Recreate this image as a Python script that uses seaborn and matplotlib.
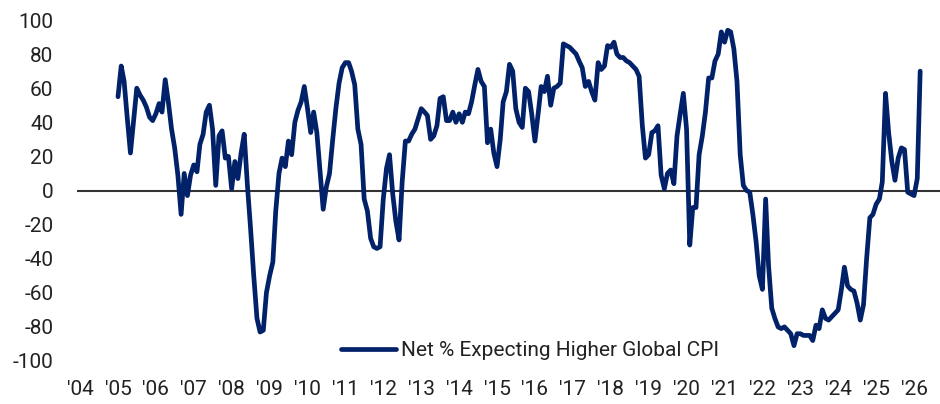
import pandas as pd
import numpy as np
import matplotlib
matplotlib.use("Agg")
import matplotlib.pyplot as plt
import matplotlib.dates as mdates
import seaborn as sns

# monthly readings, Jan 2005 .. Mar 2026
y2005 = [55, 73, 64, 42, 22, 41, 60, 56, 53, 49, 43, 41]
y2006 = [45, 51, 46, 65, 52, 36, 25, 9, -14, 10, -3, 9]
y2007 = [15, 11, 27, 33, 46, 50, 36, 3, 32, 35, 19, 20]
y2008 = [1, 17, 7, 22, 33, 3, -22, -50, -75, -83, -82, -60]
y2009 = [-50, -42, -12, 10, 19, 14, 29, 21, 40, 47, 52, 61]
y2010 = [48, 34, 46, 34, 12, -11, 2, 10, 30, 48, 63, 72]
y2011 = [75, 75, 70, 62, 36, 27, -5, -12, -28, -33, -34, -33]
y2012 = [-5, 13, 21, -2, -18, -29, 5, 29, 29, 33, 36, 42]
y2013 = [48, 46, 44, 30, 32, 38, 54, 55, 41, 41, 46, 40]
y2014 = [45, 40, 46, 45, 52, 62, 71, 64, 61, 28, 36, 22]
y2015 = [14, 30, 52, 58, 74, 70, 48, 40, 37, 60, 58, 45]
y2016 = [29, 45, 61, 58, 67, 50, 60, 61, 63, 86, 85, 84]
y2017 = [82, 80, 76, 72, 61, 64, 58, 53, 75, 71, 73, 85]
y2018 = [84, 87, 80, 78, 78, 76, 75, 73, 71, 67, 38, 19]
y2019 = [21, 34, 35, 38, 9, 1, 10, 12, 4, 32, 45, 57]
y2020 = [36, -32, -10, -10, 21, 32, 46, 66, 66, 76, 80, 93]
y2021 = [87, 94, 93, 83, 64, 21, 3, 0, -1, -14, -30, -50]
y2022 = [-58, -5, -44, -69, -75, -80, -81, -80, -82, -84, -91, -84]
y2023 = [-84, -85, -85, -85, -88, -79, -81, -70, -75, -76, -74, -72]
y2024 = [-70, -58, -45, -56, -58, -59, -66, -76, -67, -40, -16, -14]
y2025 = [-8, -5, 5, 57, 34, 17, 6, 19, 25, 24, -1, -2]
y2026 = [-3, 7, 70]

series_name = "Net % Expecting Higher Global CPI"
year_labels = ["'%02d" % (y % 100) for y in range(2004, 2027)]
y_ticks = list(range(-100, 101, 20))

values = (y2005 + y2006 + y2007 + y2008 + y2009 + y2010 + y2011 + y2012 + y2013
          + y2014 + y2015 + y2016 + y2017 + y2018 + y2019 + y2020 + y2021
          + y2022 + y2023 + y2024 + y2025 + y2026)
dates = pd.date_range("2005-01-01", periods=len(values), freq="MS")
df = pd.DataFrame({"date": dates, "value": values})

navy = "#012169"
text_col = "#222222"

sns.set_style("white")
plt.rcParams["font.family"] = ["Liberation Sans Narrow", "Roboto", "DejaVu Sans"]

fig = plt.figure(figsize=(9.4, 4.04), dpi=100)
ax = fig.add_axes([77 / 940, 1 - 361 / 404, 1 - 77 / 940, (361 - 20) / 404])

ax.axhline(0, color="#333333", linewidth=1.5, zorder=1)
sns.lineplot(data=df, x="date", y="value", ax=ax, color=navy, linewidth=3.4,
             label=series_name, zorder=2)

ax.set_ylim(-100, 100)
ax.set_xlim(pd.Timestamp("2003-12-03"), pd.Timestamp("2026-09-08"))
ax.set_yticks(y_ticks)
ax.set_yticklabels([str(t) for t in y_ticks])
ax.set_xticks([pd.Timestamp(f"{y}-01-01") for y in range(2004, 2027)])
ax.set_xticklabels(year_labels)
ax.tick_params(axis="both", length=0, labelsize=15, colors=text_col)
ax.tick_params(axis="y", pad=17)
ax.tick_params(axis="x", pad=14)
ax.set_xlabel("")
ax.set_ylabel("")
for s in ax.spines.values():
    s.set_visible(False)

ax.legend(loc="center", bbox_to_anchor=(0.525, 0.03), frameon=False,
          fontsize=15, handlelength=2.65, handletextpad=0.25,
          labelcolor=text_col)

fig.savefig("out.png", dpi=100)
